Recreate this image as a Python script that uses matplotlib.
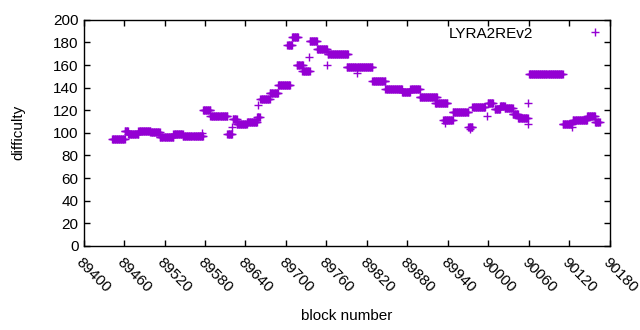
import numpy as np
import matplotlib
matplotlib.use("Agg")
import matplotlib.pyplot as plt

plt.rcParams['font.family'] = ['Liberation Sans', 'DejaVu Sans']

# runs of constant difficulty (first block, last block, difficulty)
run_start = [89442, 89461, 89466, 89481, 89499, 89513, 89533, 89547, 89577, 89588,
             89613, 89621, 89627, 89642, 89657, 89662, 89676, 89688, 89702, 89709,
             89716, 89724, 89735, 89746, 89762, 89790, 89828, 89847, 89872, 89884,
             89898, 89921, 89933, 89947, 89970, 89976, 89999, 90009, 90017, 90024,
             90036, 90044, 90060, 90110, 90125, 90146, 90158]
run_end = [89461, 89466, 89481, 89499, 89513, 89533, 89547, 89577, 89588, 89613,
           89620, 89627, 89642, 89657, 89661, 89676, 89688, 89706, 89709, 89718,
           89725, 89735, 89746, 89761, 89792, 89828, 89847, 89872, 89884, 89898,
           89924, 89939, 89947, 89970, 89976, 89995, 90007, 90017, 90024, 90036,
           90044, 90058, 90110, 90124, 90146, 90158, 90165]
run_diff = [94.5, 102, 99, 102, 100.5, 96, 99, 97, 120, 115,
            99, 112, 108, 110, 114, 130, 135, 142, 178, 185,
            160, 155, 181, 174, 170, 158, 146, 139, 136, 139,
            132, 126, 111, 118, 105, 123, 126, 121, 124, 122,
            117, 113, 152, 108, 111, 115, 110]

# odd single blocks off the runs
extra_block = [89576, 89620, 89658, 89734, 89761, 89805, 89936, 89972, 89998, 90058, 90058, 90124]
extra_diff = [100, 105, 124.5, 167, 160, 153, 109, 103, 115, 126, 108, 105]

blocks = []
diffs = []
for s, e, d in zip(run_start, run_end, run_diff):
    b = np.arange(s, e + 1)
    blocks.extend(b)
    diffs.extend([d] * len(b))
blocks.extend(extra_block)
diffs.extend(extra_diff)

fig = plt.figure(figsize=(6.4, 3.3), dpi=100)
ax = fig.add_axes([0.1305, 0.255, 0.953 - 0.1305, 0.940 - 0.255])

ax.plot(blocks, diffs, linestyle='none', marker='+', markersize=6,
        markeredgewidth=1, color='#9400D3', label='LYRA2REv2')

ax.set_xlim(89400, 90180)
ax.set_ylim(0, 200)
ax.set_xticks(np.arange(89400, 90181, 60))
ax.set_yticks(np.arange(0, 201, 20))
ax.tick_params(direction='in', length=4, width=1, top=True, right=True,
               labelsize=11, colors='black')
ax.tick_params(axis='x', pad=7)
for lbl in ax.get_xticklabels():
    lbl.set_rotation(-45)
    lbl.set_ha('left')
    lbl.set_va('top')
    lbl.set_rotation_mode('anchor')
for sp in ax.spines.values():
    sp.set_linewidth(1)

ax.set_xlabel('block number', fontsize=11, labelpad=10)
ax.set_ylabel('difficulty', fontsize=11, labelpad=20)

ax.legend(loc='upper right', bbox_to_anchor=(1.0, 0.97), markerfirst=False,
          frameon=False, fontsize=11, handlelength=2, handletextpad=3.0,
          borderaxespad=0, borderpad=0)

fig.savefig('out.png', dpi=100)
